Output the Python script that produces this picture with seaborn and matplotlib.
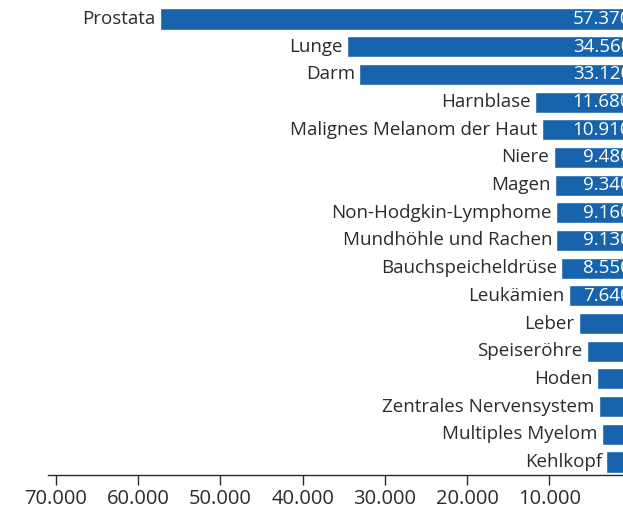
import matplotlib
matplotlib.use("Agg")
import matplotlib.pyplot as plt
import seaborn as sns
from matplotlib.ticker import FuncFormatter

categories = [
    "Prostata", "Lunge", "Darm", "Harnblase", "Malignes Melanom der Haut",
    "Niere", "Magen", "Non-Hodgkin-Lymphome", "Mundhöhle und Rachen",
    "Bauchspeicheldrüse", "Leukämien", "Leber", "Speiseröhre", "Hoden",
    "Zentrales Nervensystem", "Multiples Myelom", "Kehlkopf",
]
values = [57370, 34560, 33120, 11680, 10910, 9480, 9340, 9160, 9130,
          8550, 7640, 6390, 5400, 4160, 4000, 3600, 3070]
# only the larger bars carry a value label
labelled = 11
tick_values = [70000, 60000, 50000, 40000, 30000, 20000, 10000]

BLUE = "#1764ad"
TEXT = "#2b2b2b"


def de_format(v):
    return f"{int(v):,}".replace(",", ".")


sns.set_style("white")
plt.rcParams["font.family"] = ["Open Sans", "DejaVu Sans"]

fig = plt.figure(figsize=(6.23, 5.07), dpi=100)
ax = fig.add_axes([0.0766, 0.0631, 1.0137 - 0.0766, 0.927])

sns.barplot(x=values, y=categories, orient="h", color=BLUE, width=0.76,
            saturation=1, ax=ax)

ax.set_xlim(71000, 0)
ax.set_ylim(16.47, -0.505)

for i, (cat, v) in enumerate(zip(categories, values)):
    ax.annotate(cat, xy=(v, i), xytext=(-3.2, 0), textcoords="offset points",
                ha="right", va="center", fontsize=13.5, color=TEXT)
    if i < labelled:
        ax.annotate(de_format(v), xy=(0, i), xytext=(-0.3, 0),
                    textcoords="offset points", ha="right", va="center",
                    fontsize=13.5, color="white")

ax.set_yticks([])
ax.set_ylabel("")
ax.set_xticks(tick_values)
ax.xaxis.set_major_formatter(FuncFormatter(lambda v, p: de_format(v)))
ax.tick_params(axis="x", direction="out", length=7, width=1, color=TEXT,
               labelsize=14.5, labelcolor=TEXT, pad=3, bottom=True)
for s in ["top", "right", "left"]:
    ax.spines[s].set_visible(False)
ax.spines["bottom"].set_color(TEXT)
ax.spines["bottom"].set_linewidth(1)

fig.savefig("out.png", dpi=100)
